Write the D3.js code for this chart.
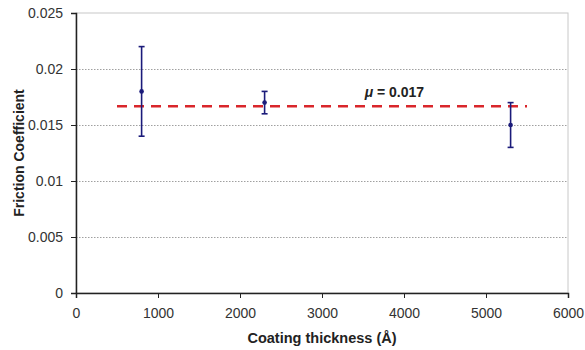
<!DOCTYPE html>
<html>
<head>
<meta charset="utf-8">
<script src="https://cdn.jsdelivr.net/npm/d3@7"></script>
<style>
  html, body { margin: 0; padding: 0; background: #fff; }
  svg { display: block; font-family: "Liberation Sans", Arial, sans-serif; }
</style>
</head>
<body>
<svg id="chart" width="585" height="350"></svg>
<script>
// Measured friction coefficient per coating thickness
const thickness = [800, 2300, 5300];
const friction = [0.018, 0.017, 0.015];
const errLow = [0.014, 0.016, 0.013];
const errHigh = [0.022, 0.018, 0.017];

// Mean friction coefficient line
const meanValue = 0.017;
const meanLineY = [0.01667, 0.01667];
const meanLineX = [500, 5500];

const xTicks = [0, 1000, 2000, 3000, 4000, 5000, 6000];
const yTicks = [0, 0.005, 0.01, 0.015, 0.02, 0.025];

const svg = d3.select("#chart");
const margin = { left: 76, top: 13, right: 17, bottom: 57 };
const W = 585, H = 350;

const x = d3.scaleLinear().domain([0, 6000]).range([margin.left, W - margin.right]);
const y = d3.scaleLinear().domain([0, 0.025]).range([H - margin.bottom, margin.top]);

// plot frame (light)
svg.append("rect")
  .attr("x", x(0)).attr("y", y(0.025))
  .attr("width", x(6000) - x(0)).attr("height", y(0) - y(0.025))
  .attr("fill", "none").attr("stroke", "#c8c8c8").attr("stroke-width", 1);

// horizontal gridlines
svg.append("g").selectAll("line")
  .data(yTicks.filter(d => d > 0 && d < 0.025))
  .join("line")
  .attr("x1", x(0)).attr("x2", x(6000))
  .attr("y1", d => Math.round(y(d)) + 0.5).attr("y2", d => Math.round(y(d)) + 0.5)
  .attr("stroke", "#a0a0a0").attr("stroke-width", 1).attr("stroke-dasharray", "1.5,1.5");

// axes
const yAxis = d3.axisLeft(y).tickValues(yTicks).tickFormat(d => String(+d.toFixed(3))).tickSize(5).tickPadding(8);
const xAxis = d3.axisBottom(x).tickValues(xTicks).tickFormat(d3.format("d")).tickSize(5).tickPadding(10);

const gy = svg.append("g").attr("transform", `translate(${x(0)},0)`).call(yAxis);
const gx = svg.append("g").attr("transform", `translate(0,${y(0)})`).call(xAxis);

[gy, gx].forEach(g => {
  g.select(".domain").attr("stroke", "#222").attr("stroke-width", 1.5);
  g.selectAll(".tick line").attr("stroke", "#222");
  g.selectAll(".tick text").attr("fill", "#333").style("font-size", "14px");
});

// axis titles
svg.append("text")
  .attr("x", (x(0) + x(6000)) / 2).attr("y", 343)
  .attr("text-anchor", "middle")
  .style("font-size", "14.5px").style("font-weight", "bold").attr("fill", "#222")
  .text("Coating thickness (Å)");

svg.append("text")
  .attr("transform", `translate(24,${(y(0) + y(0.025)) / 2}) rotate(-90)`)
  .attr("text-anchor", "middle")
  .style("font-size", "14px").style("font-weight", "bold").attr("fill", "#222")
  .text("Friction Coefficient");

// mean dashed line
svg.append("line")
  .attr("x1", x(meanLineX[0])).attr("x2", x(meanLineX[1]))
  .attr("y1", y(meanLineY[0])).attr("y2", y(meanLineY[1]))
  .attr("stroke", "#d9262b").attr("stroke-width", 2.5)
  .attr("stroke-dasharray", "10,7");

svg.append("text")
  .attr("x", x(3520)).attr("y", y(0.0175))
  .style("font-size", "14px").style("font-weight", "bold").attr("fill", "#222")
  .call(t => {
    t.append("tspan").style("font-style", "italic").text("μ");
    t.append("tspan").text(` = ${meanValue.toFixed(3)}`);
  });

// error bars and points
const data = thickness.map((t, i) => ({ t, v: friction[i], lo: errLow[i], hi: errHigh[i] }));
const navy = "#1b1b7a";
const g = svg.append("g");
g.selectAll("line.err").data(data).join("line").attr("class", "err")
  .attr("x1", d => x(d.t)).attr("x2", d => x(d.t))
  .attr("y1", d => y(d.lo)).attr("y2", d => y(d.hi))
  .attr("stroke", navy).attr("stroke-width", 1.6);
["lo", "hi"].forEach(k => {
  g.selectAll(`line.cap-${k}`).data(data).join("line").attr("class", `cap-${k}`)
    .attr("x1", d => x(d.t) - 3).attr("x2", d => x(d.t) + 3)
    .attr("y1", d => y(d[k])).attr("y2", d => y(d[k]))
    .attr("stroke", navy).attr("stroke-width", 1.6);
});
g.selectAll("circle").data(data).join("circle")
  .attr("cx", d => x(d.t)).attr("cy", d => y(d.v)).attr("r", 2.3)
  .attr("fill", navy);
</script>
</body>
</html>
